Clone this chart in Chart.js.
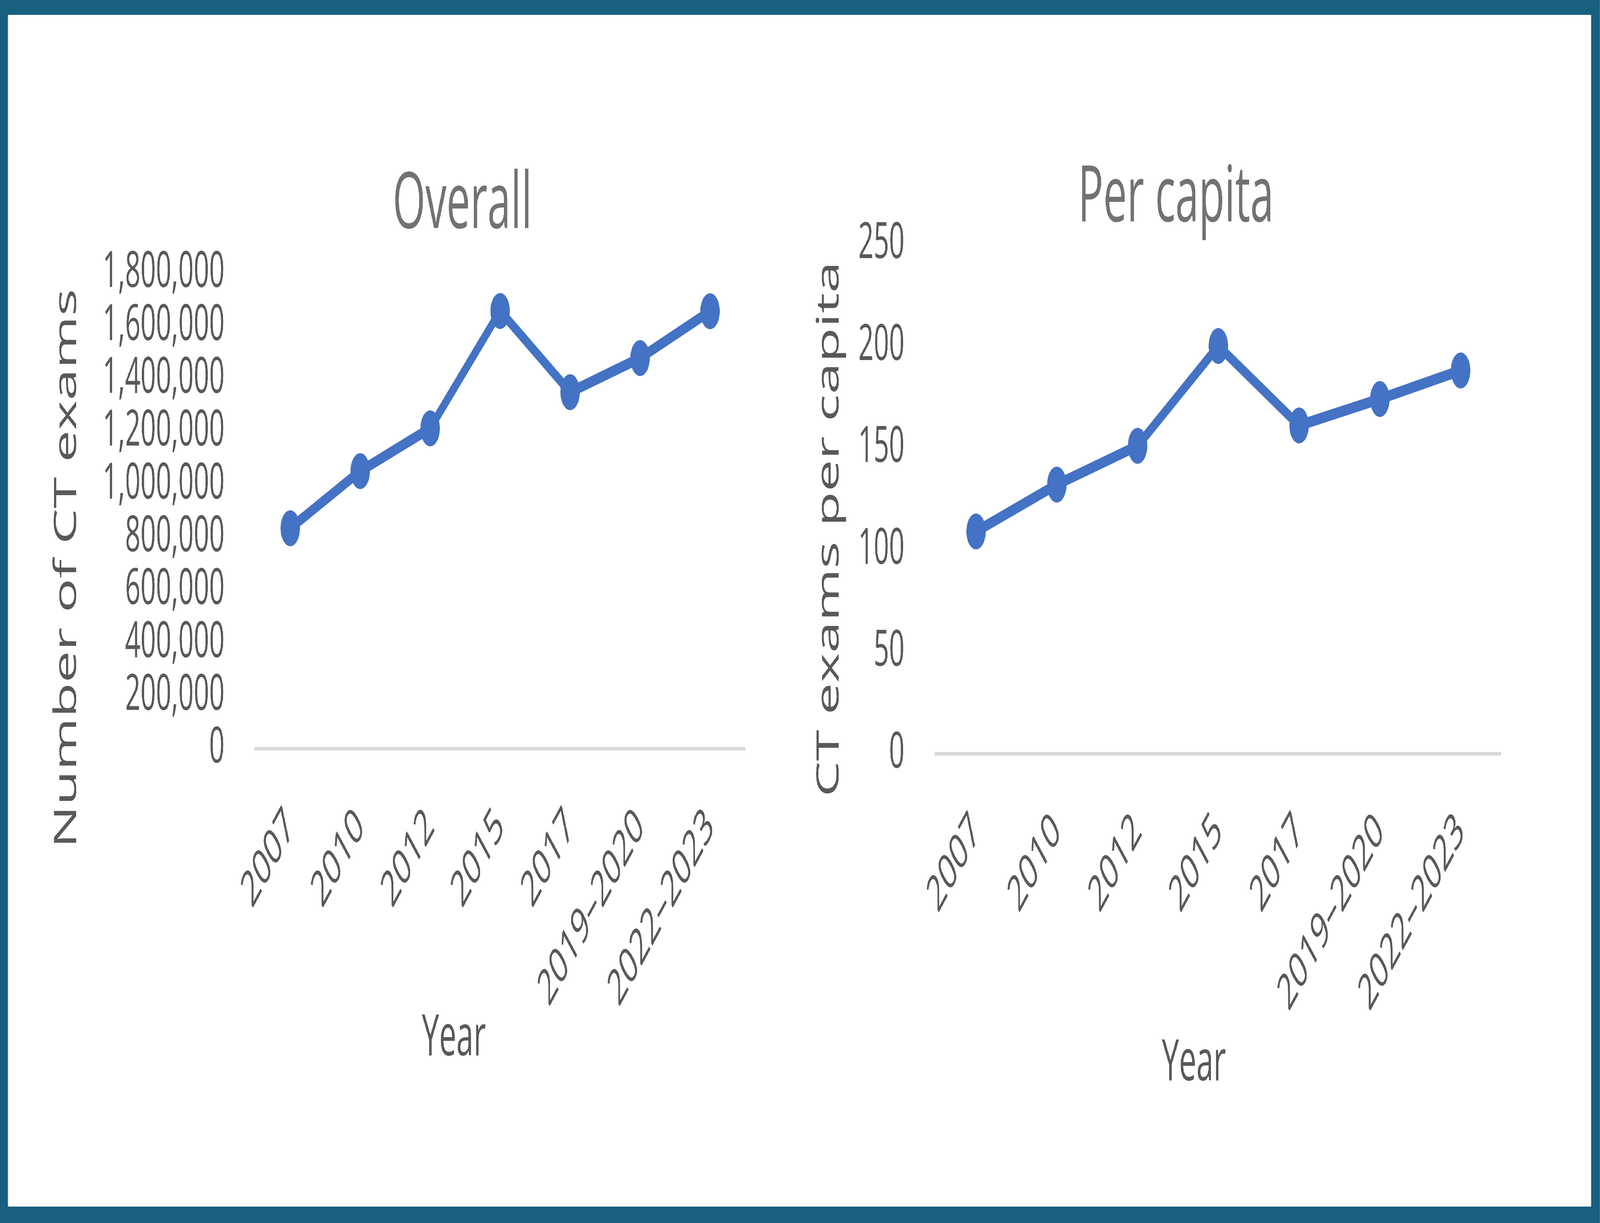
<!DOCTYPE html>
<html lang="en">
<head>
<meta charset="utf-8">
<title>CT exams</title>
<script src="https://cdn.jsdelivr.net/npm/chart.js@4.4.1/dist/chart.umd.min.js"></script>
<style>
  html, body { margin: 0; padding: 0; width: 100%; height: 100%; overflow: hidden; background: #17607f; }
  #escena { position: absolute; left: 0; top: 0; width: 7596px; height: 3132px; background: #17607f; transform-origin: 0 0; }
  #fondo { position: absolute; left: 38px; top: 38px; width: 7516px; height: 3052px; background: #ffffff; }
  canvas { position: absolute; top: 41px; }
  #graficoTotal { left: 41px; }
  #graficoPerCapita { left: 3798px; }
</style>
</head>
<body>
<div id="escena">
  <div id="fondo"></div>
  <canvas id="graficoTotal" width="3757" height="3050"></canvas>
  <canvas id="graficoPerCapita" width="3757" height="3050"></canvas>
</div>
<script>
// Datos
const categorias = ['2007', '2010', '2012', '2015', '2017', '2019–2020', '2022–2023'];
const examenesTotales = [834000, 1050000, 1212000, 1656000, 1349000, 1478000, 1655000];
const examenesPerCapita = [109, 132, 151, 200, 161, 174, 188];
const ticksTotales = [0, 200000, 400000, 600000, 800000, 1000000, 1200000, 1400000, 1600000, 1800000];
const ticksPerCapita = [0, 50, 100, 150, 200, 250];

const AZUL = '#4472c4';  // Color de la serie
const GRIS = '#595959';  // Color de los textos de los ejes
const GRIS_TITULO = '#757171';  // Color del título
const FUENTE = '"Open Sans", "Noto Sans", sans-serif';

// La escena se diseña a 7596x3132 y se ajusta a la ventana real del navegador
function ajustarEscena() {
    const escena = document.getElementById('escena');
    const sx = window.innerWidth / 7596;
    const sy = window.innerHeight / 3132;
    escena.style.transform = `scale(${sx}, ${sy})`;
}
ajustarEscena();
window.addEventListener('resize', ajustarEscena);

// Plugin sencillo que dibuja el título y los títulos de los ejes donde están en el original
function crearTextos(textos) {
    return {
        id: 'textos',
        afterDraw(chart) {
            const ctx = chart.ctx;
            textos.forEach(t => {
                ctx.save();
                ctx.translate(t.x, t.y);
                if (t.rotado) ctx.rotate(-Math.PI / 2);  // Título vertical del eje Y
                ctx.font = `${t.tamano}px ${FUENTE}`;
                ctx.fillStyle = t.color;
                ctx.textAlign = 'center';
                ctx.textBaseline = t.rotado ? 'middle' : 'alphabetic';
                ctx.fillText(t.texto, 0, 0);
                ctx.restore();
            });
        }
    };
}

// Crea un gráfico de línea con marcadores
function crearGrafico(idCanvas, valores, ticksY, diseno, textos) {
    const ctx = document.getElementById(idCanvas).getContext('2d');
    return new Chart(ctx, {
        type: 'line',
        data: {
            labels: categorias,
            datasets: [{
                data: valores,
                borderColor: AZUL,
                backgroundColor: AZUL,
                borderWidth: 28,
                borderJoinStyle: 'round',
                borderCapStyle: 'round',
                pointRadius: 46,
                pointBackgroundColor: AZUL,
                pointBorderColor: AZUL,
                pointBorderWidth: 0,
                tension: 0,
                fill: false
            }]
        },
        options: {
            responsive: false,
            animation: false,
            devicePixelRatio: 1,
            layout: { padding: { top: diseno.arriba, right: diseno.derecha, bottom: 0, left: 0 } },
            plugins: {
                legend: { display: false },
                title: { display: false },
                tooltip: { enabled: false }
            },
            scales: {
                x: {
                    offset: true,
                    grid: { display: false, drawTicks: false },
                    border: { display: true, color: '#d9d9d9', width: 9 },
                    ticks: {
                        autoSkip: false,
                        minRotation: 45,
                        maxRotation: 45,
                        padding: diseno.paddingX,
                        color: GRIS,
                        font: { family: FUENTE, size: 128 }
                    },
                    afterFit: escala => { escala.height = diseno.altoX; }
                },
                y: {
                    min: ticksY[0],
                    max: ticksY[ticksY.length - 1],
                    grid: { display: false, drawTicks: false },
                    border: { display: false },
                    ticks: {
                        autoSkip: false,
                        stepSize: ticksY[1] - ticksY[0],
                        padding: diseno.paddingY,
                        color: GRIS,
                        font: { family: FUENTE, size: 128 },
                        callback: v => Number(v).toLocaleString('en-US')
                    },
                    afterFit: escala => { escala.width = diseno.anchoY; }
                }
            }
        },
        plugins: [crearTextos(textos)]
    });
}

crearGrafico('graficoTotal', examenesTotales, ticksTotales,
    { arriba: 658, derecha: 261, anchoY: 1171, altoX: 1174, paddingY: 146, paddingX: 125 },
    [
        { texto: 'Overall', x: 2154, y: 543, tamano: 200, color: GRIS_TITULO },
        { texto: 'Number of CT exams', x: 278, y: 1415, tamano: 146, color: GRIS, rotado: true },
        { texto: 'Year', x: 2114, y: 2662, tamano: 146, color: GRIS }
    ]);

crearGrafico('graficoPerCapita', examenesPerCapita, ticksPerCapita,
    { arriba: 584, derecha: 429, anchoY: 644, altoX: 1161, paddingY: 148, paddingX: 124 },
    [
        { texto: 'Per capita', x: 1784, y: 526, tamano: 200, color: GRIS_TITULO },
        { texto: 'CT exams per capita', x: 141, y: 1314, tamano: 146, color: GRIS, rotado: true },
        { texto: 'Year', x: 1870, y: 2726, tamano: 146, color: GRIS }
    ]);
</script>
</body>
</html>
